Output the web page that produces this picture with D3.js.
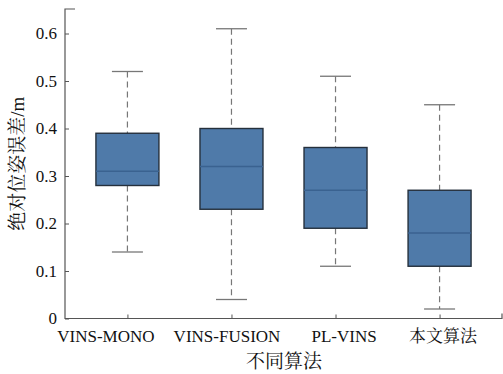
<!DOCTYPE html>
<html><head><meta charset="utf-8">
<script src="https://cdn.jsdelivr.net/npm/d3@7"></script>
<style>body{margin:0;background:#fff}svg{display:block}</style>
</head><body>
<svg id="c" width="503" height="374"></svg>
<script>
const categories = ["VINS-MONO","VINS-FUSION","PL-VINS","本文算法"];
const whiskerLow = [0.14,0.04,0.11,0.02];
const q1 = [0.28,0.23,0.19,0.11];
const median = [0.31,0.32,0.27,0.18];
const q3 = [0.39,0.40,0.36,0.27];
const whiskerHigh = [0.52,0.61,0.51,0.45];
const yTicks = [0,0.1,0.2,0.3,0.4,0.5,0.6];
const yTickLabels = ["0","0.1","0.2","0.3","0.4","0.5","0.6"];
const yTitle = "绝对位姿误差/m";
const xTitle = "不同算法";

const svg = d3.select("#c");
const L = 65, R = 502, T = 9, B = 318.5;
const font = "'Liberation Serif','Times New Roman','Noto Serif CJK SC','Noto Sans CJK SC',serif";
const y = d3.scaleLinear().domain([0,0.6]).range([B, B - 0.6*475]);
const x = d3.scalePoint().domain(categories).range([L,R]).padding(0.6);

const axisColor = "#555";
// y axis
const ya = svg.append("g").attr("transform",`translate(${L},0)`)
  .call(d3.axisLeft(y).tickValues(yTicks).tickFormat((d,i)=>yTickLabels[i]).tickSizeInner(-4).tickSizeOuter(0).tickPadding(8));
ya.select(".domain").remove();
ya.selectAll("line").attr("stroke",axisColor);
ya.selectAll("text").attr("font-family",font).attr("font-size",17).attr("fill","#111");
// x axis
const labelShift = [-22,-5,8,3];
const xa = svg.append("g").attr("transform",`translate(0,${B})`)
  .call(d3.axisBottom(x).tickSizeInner(-4).tickSizeOuter(0).tickPadding(11));
xa.select(".domain").remove();
xa.selectAll("line").attr("stroke",axisColor);
xa.selectAll("text").attr("font-family",font).attr("font-size",17).attr("fill","#111")
  .attr("dx",(d,i)=>labelShift[i]);
// frame lines
svg.append("path").attr("d",`M${L+10},${T}H${L}V${B}H${R}V${B-5}`)
  .attr("fill","none").attr("stroke",axisColor).attr("stroke-width",1.2);

const boxW = 63, capW = 31;
const g = svg.append("g");
categories.forEach((c,i)=>{
  const cx = x(c);
  g.append("line").attr("x1",cx).attr("x2",cx).attr("y1",y(whiskerHigh[i])).attr("y2",y(q3[i]))
    .attr("stroke","#777").attr("stroke-width",1.2).attr("stroke-dasharray","6,4");
  g.append("line").attr("x1",cx).attr("x2",cx).attr("y1",y(q1[i])).attr("y2",y(whiskerLow[i]))
    .attr("stroke","#777").attr("stroke-width",1.2).attr("stroke-dasharray","6,4");
  [whiskerHigh[i],whiskerLow[i]].forEach(v=>{
    g.append("line").attr("x1",cx-capW/2).attr("x2",cx+capW/2).attr("y1",y(v)).attr("y2",y(v))
      .attr("stroke","#777").attr("stroke-width",1.3);
  });
  g.append("rect").attr("x",cx-boxW/2).attr("width",boxW)
    .attr("y",y(q3[i])).attr("height",y(q1[i])-y(q3[i]))
    .attr("fill","#4f7aa9").attr("stroke","#25303c").attr("stroke-width",1.4);
  g.append("line").attr("x1",cx-boxW/2).attr("x2",cx+boxW/2).attr("y1",y(median[i])).attr("y2",y(median[i]))
    .attr("stroke","#3a6290").attr("stroke-width",1.4);
});

svg.append("text").attr("transform",`translate(24,${(T+B)/2}) rotate(-90)`)
  .attr("text-anchor","middle").attr("font-family",font).attr("font-size",19).attr("fill","#111").text(yTitle);
svg.append("text").attr("x",284).attr("y",368)
  .attr("text-anchor","middle").attr("font-family",font).attr("font-size",19).attr("fill","#111").text(xTitle);
</script>
</body></html>
